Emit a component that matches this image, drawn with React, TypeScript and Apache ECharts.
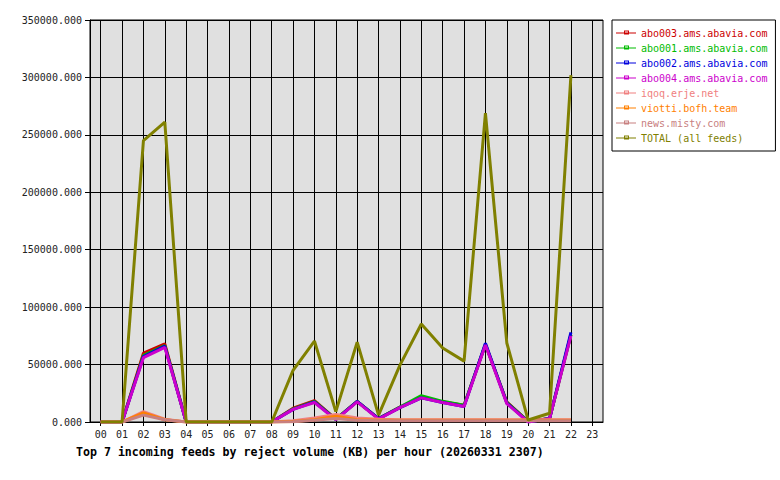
import React, { useEffect, useRef } from "react";
import * as echarts from "echarts";

const hours = ["00","01","02","03","04","05","06","07","08","09","10","11","12","13","14","15","16","17","18","19","20","21","22","23"];

const abo003 = [0,0,60000,68000,0,0,0,0,0,12000,18500,2500,18000,3000,13000,21500,17500,14500,67500,17500,500,3000,76000];
const abo001 = [0,0,58000,66500,0,0,0,0,0,11500,18000,2500,18000,3000,13000,23000,18000,14500,67500,17000,500,3000,76000];
const abo002 = [0,0,57000,66000,0,0,0,0,0,11000,17500,2000,18000,3000,12500,21000,17000,13500,68500,16500,0,3000,78000];
const abo004 = [0,0,56000,65000,0,0,0,0,0,11000,17000,2000,17500,2500,12500,21000,17000,13500,67000,16000,0,3000,75000];
const iqoq = [0,0,9000,2500,0,0,0,0,0,1000,3500,6500,3500,2500,2000,2000,2000,2000,2000,2000,2000,2000,2000];
const viotti = [0,0,8000,2000,0,0,0,0,0,500,2000,5000,2000,1500,1500,1500,1500,1500,1500,1500,1500,1500,1500];
const news = [0,0,6000,2000,0,0,0,0,0,300,1500,3000,1500,1000,1000,1000,1000,1000,1000,1000,1000,1000,1000];
const total = [0,0,245000,261000,0,0,0,0,0,45000,70500,9000,69500,6000,49500,85300,64500,53000,269000,68800,1700,7600,302000];

const seriesNames = ["abo003.ams.abavia.com","abo001.ams.abavia.com","abo002.ams.abavia.com","abo004.ams.abavia.com","iqoq.erje.net","viotti.bofh.team","news.misty.com","TOTAL (all feeds)"];
const seriesData = [abo003, abo001, abo002, abo004, iqoq, viotti, news, total];
const seriesColors = ["#cc0000","#00bb00","#0000dd","#cc00cc","#f08080","#ff8000","#c88080","#808000"];

const FONT = "DejaVu Sans Mono";
const LEGEND_ICON = "path://M0 0Z M0 10Z M0 4.5H20V5.5H0Z M8 2.5H13V6.5H8Z M9 3.5V5.5H12V3.5Z";

export default function App() {
  const ref = useRef<HTMLDivElement>(null);
  useEffect(() => {
    if (!ref.current) return;
    const chart = echarts.init(ref.current, null, { renderer: "svg" });
    chart.setOption({
      animation: false,
      backgroundColor: "#ffffff",
      title: {
        text: "Top 7 incoming feeds by reject volume (KB) per hour (20260331 2307)",
        left: 76,
        top: 446,
        padding: 0,
        textStyle: { fontFamily: FONT, fontSize: 11.6, fontWeight: "bold", color: "#000" },
      },
      legend: {
        orient: "vertical",
        left: 612,
        top: 20,
        padding: [8, 8, 8, 4],
        itemWidth: 20,
        itemHeight: 10,
        itemGap: 5,
        backgroundColor: "#ffffff",
        borderColor: "#000",
        borderWidth: 1,
        borderRadius: 0,
        data: seriesNames.map((n, i) => ({
          name: n,
          icon: LEGEND_ICON,
          itemStyle: { color: seriesColors[i], borderWidth: 0 },
          textStyle: { color: seriesColors[i] },
        })),
        textStyle: { fontFamily: FONT, fontSize: 10 },
      },
      grid: {
        left: 90,
        top: 20,
        width: 513,
        height: 402,
        show: true,
        backgroundColor: "#e0e0e0",
        borderColor: "#000",
        borderWidth: 1,
      },
      xAxis: {
        type: "category",
        data: hours,
        boundaryGap: true,
        axisLine: { lineStyle: { color: "#000", width: 1 } },
        axisTick: { show: true, alignWithLabel: true, length: 4, lineStyle: { color: "#000" } },
        splitLine: { show: true, alignWithLabel: true, lineStyle: { color: "#000", width: 1 } },
        axisLabel: { fontFamily: FONT, fontSize: 10, color: "#222", margin: 7, interval: 0 },
      },
      yAxis: {
        type: "value",
        min: 0,
        max: 350000,
        interval: 50000,
        axisLine: { show: true, lineStyle: { color: "#000", width: 1 } },
        axisTick: { show: true, length: 5, lineStyle: { color: "#000" } },
        splitLine: { show: true, lineStyle: { color: "#000", width: 1 } },
        axisLabel: {
          fontFamily: FONT,
          fontSize: 10,
          color: "#222",
          margin: 8,
          formatter: (v: number) => v.toFixed(3),
        },
      },
      series: seriesNames.map((n, i) => ({
        name: n,
        type: "line",
        data: seriesData[i],
        showSymbol: false,
        symbol: "rect",
        symbolSize: [5, 4],
        itemStyle: { color: seriesColors[i] },
        lineStyle: { color: seriesColors[i], width: 3 },
        color: seriesColors[i],
      })),
    });
    return () => chart.dispose();
  }, []);
  return (
    <div
      ref={ref}
      style={{ position: "fixed", left: 0, top: 0, width: 780, height: 480, background: "#fff" }}
    />
  );
}
